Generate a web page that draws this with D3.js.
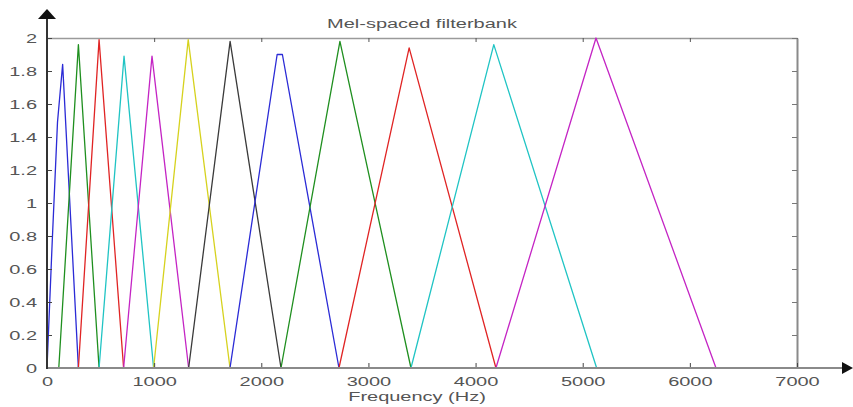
<!DOCTYPE html>
<html>
<head>
<meta charset="utf-8">
<script src="https://cdn.jsdelivr.net/npm/d3@7"></script>
<style>
  body { margin: 0; background: #fff; }
  svg { display: block; }
</style>
</head>
<body>
<div id="chart"></div>
<script>
(function() {
    'use strict';

    // filter vertices (frequency in Hz, filter gain)
    const filterFreqs = [
        [0, 49, 98, 146, 293],
        [110, 293, 486],
        [293, 486, 715],
        [486, 719, 995],
        [715, 980, 1322],
        [995, 1318, 1708],
        [1322, 1709, 2184],
        [1708, 2148, 2197, 2725],
        [2184, 2734, 3397],
        [2725, 3380, 4190],
        [3397, 4170, 5130],
        [4190, 5124, 6244]
    ];
    const filterValues = [
        [0, 0.77, 1.49, 1.84, 0],
        [0, 1.96, 0],
        [0, 1.99, 0],
        [0, 1.89, 0],
        [0, 1.89, 0],
        [0, 1.99, 0],
        [0, 1.98, 0],
        [0, 1.9, 1.9, 0],
        [0, 1.98, 0],
        [0, 1.94, 0],
        [0, 1.96, 0],
        [0, 2.0, 0]
    ];

    const xTicks = [0, 1000, 2000, 3000, 4000, 5000, 6000, 7000];
    const yTicks = [0, 0.2, 0.4, 0.6, 0.8, 1, 1.2, 1.4, 1.6, 1.8, 2];

    const title = "Mel-spaced filterbank";
    const xLabel = "Frequency (Hz)";

    // matlab default line colour order
    const colorOrder = ["#2b2bd6", "#1f8f1f", "#e02424", "#20c4c4", "#c424c4", "#d6d21e", "#3a3a3a"];

    const width = 853;
    const height = 407;

    const marginTop = 38;
    const marginRight = 56;
    const marginBottom = 39;
    const marginLeft = 47;

    const sx = 1.6; // text in the picture is stretched sideways
    const font = "'Liberation Sans', Arial, sans-serif";

    const svg = d3.select("#chart")
        .append("svg")
        .attr("width", width)
        .attr("height", height);

    // X SCALE
    const x = d3.scaleLinear()
        .domain([0, 7000])
        .range([marginLeft, width - marginRight]);

    // Y SCALE
    const y = d3.scaleLinear()
        .domain([0, 2])
        .range([height - marginBottom, marginTop]);

    // TOP + RIGHT BOX
    svg.append("g")
        .attr("transform", `translate(0, ${y(2)})`)
        .call(d3.axisTop(x).tickValues(xTicks).tickSizeInner(-4).tickSizeOuter(0).tickFormat(""))
        .call(g => g.select(".domain").attr("stroke", "#9a9a9a").attr("stroke-width", 1.5))
        .call(g => g.selectAll(".tick line").attr("stroke", "#555"));

    svg.append("g")
        .attr("transform", `translate(${x(7000)}, 0)`)
        .call(d3.axisRight(y).tickValues(yTicks).tickSizeInner(-5).tickSizeOuter(0).tickFormat(""))
        .call(g => g.select(".domain").attr("stroke", "#8a8a8a").attr("stroke-width", 2))
        .call(g => g.selectAll(".tick line").attr("stroke", "#777"));

    // FILTERS
    const line = d3.line()
        .x(d => x(d[0]))
        .y(d => y(d[1]));

    const filters = filterFreqs.map((fs, i) => fs.map((f, j) => [f, filterValues[i][j]]));

    svg.append("g")
        .selectAll("path")
        .data(filters)
        .join("path")
        .attr("d", line)
        .attr("fill", "none")
        .attr("stroke", (d, i) => colorOrder[i % colorOrder.length])
        .attr("stroke-width", 1.3)
        .attr("stroke-linejoin", "round");

    // X AXIS
    svg.append("g")
        .attr("transform", `translate(0, ${y(0)})`)
        .call(d3.axisBottom(x).tickValues(xTicks).tickSizeInner(-5).tickSizeOuter(0).tickPadding(9)
            .tickFormat(d => String(d)))
        .call(g => g.select(".domain").remove())
        .call(g => g.selectAll(".tick line").attr("stroke", "#444"))
        .selectAll("text")
        .attr("transform", `scale(${sx}, 1)`)
        .attr("fill", "#555")
        .attr("font-size", "12.5px")
        .attr("font-family", font);

    // Y AXIS
    svg.append("g")
        .attr("transform", `translate(${x(0)}, 0)`)
        .call(d3.axisLeft(y).tickValues(yTicks).tickSizeInner(-5).tickSizeOuter(0).tickFormat(d => String(d)))
        .call(g => g.select(".domain").remove())
        .call(g => g.selectAll(".tick line").attr("stroke", "#444"))
        .selectAll("text")
        .attr("x", -10 / sx)
        .attr("transform", `scale(${sx}, 1)`)
        .attr("fill", "#555")
        .attr("font-size", "12.5px")
        .attr("font-family", font);

    // axis lines with arrow heads
    const x0 = x(0), y0 = y(0);
    const xEnd = width - 11, yEnd = 9;

    svg.append("line")
        .attr("x1", x0).attr("y1", y0)
        .attr("x2", xEnd).attr("y2", y0)
        .attr("stroke", "#8a8a8a")
        .attr("stroke-width", 2);

    svg.append("line")
        .attr("x1", x0).attr("y1", y0 + 1)
        .attr("x2", x0).attr("y2", yEnd + 9)
        .attr("stroke", "#333")
        .attr("stroke-width", 2);

    svg.append("path")
        .attr("d", `M${xEnd},${y0 - 6}L${xEnd + 11},${y0}L${xEnd},${y0 + 6}Z`)
        .attr("fill", "#111");

    svg.append("path")
        .attr("d", `M${x0 - 9},${yEnd + 10}L${x0},${yEnd}L${x0 + 9},${yEnd + 10}Z`)
        .attr("fill", "#111");

    // TITLE
    svg.append("text")
        .attr("transform", `translate(${(x(0) + x(7000)) / 2}, 28) scale(${sx}, 1)`)
        .attr("text-anchor", "middle")
        .attr("fill", "#555")
        .attr("font-size", "12.5px")
        .attr("font-family", font)
        .text(title);

    // X LABEL
    svg.append("text")
        .attr("transform", `translate(${(x(0) + x(7000)) / 2 - 5}, 401) scale(${sx}, 1)`)
        .attr("text-anchor", "middle")
        .attr("fill", "#555")
        .attr("font-size", "12.5px")
        .attr("font-family", font)
        .text(xLabel);

})();
</script>
</body>
</html>
